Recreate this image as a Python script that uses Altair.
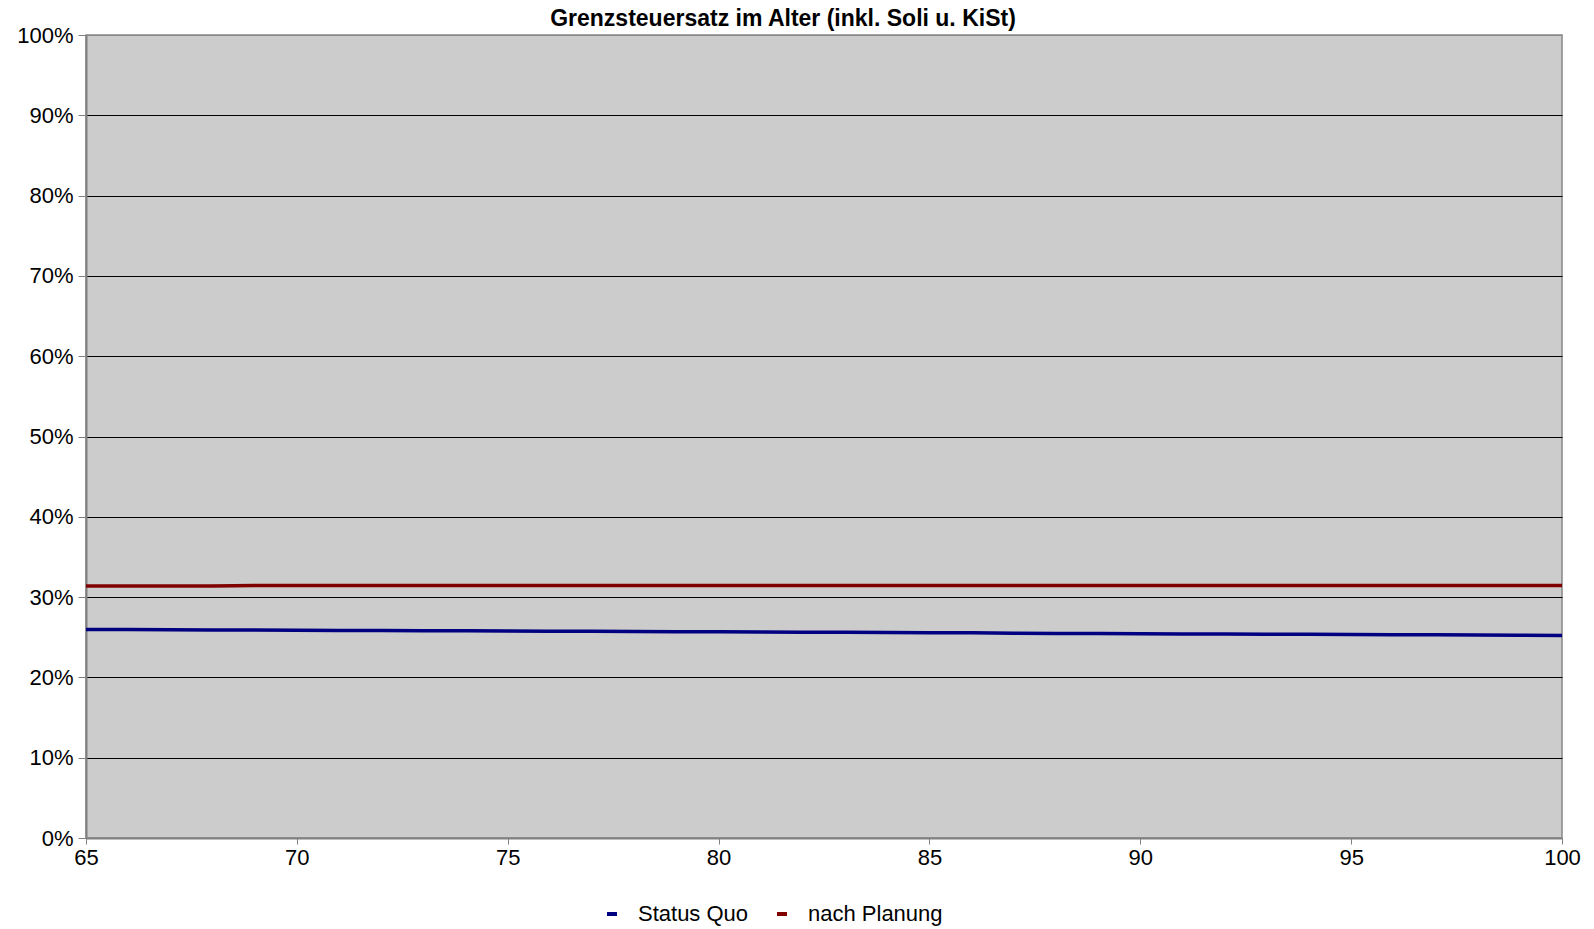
import altair as alt
import pandas as pd

ages = list(range(65, 101))
status_quo = [25.95, 25.95, 25.92, 25.90, 25.90, 25.87, 25.85, 25.85, 25.82, 25.80,
              25.78, 25.76, 25.74, 25.71, 25.70, 25.68, 25.65, 25.63, 25.62, 25.59,
              25.57, 25.55, 25.51, 25.48, 25.47, 25.44, 25.42, 25.41, 25.38, 25.36,
              25.35, 25.32, 25.30, 25.29, 25.25, 25.23]
nach_planung = [31.38, 31.38, 31.38, 31.38] + [31.46] * 32
series_names = ["Status Quo", "nach Planung"]
series_colors = ["#000080", "#800000"]
x_ticks = [65, 70, 75, 80, 85, 90, 95, 100]
y_ticks = [i / 10 for i in range(11)]

rows = []
for a, s, n in zip(ages, status_quo, nach_planung):
    rows.append({"Alter": a, "Wert": s / 100, "Serie": series_names[0]})
    rows.append({"Alter": a, "Wert": n / 100, "Serie": series_names[1]})
df = pd.DataFrame(rows)

FONT = "Liberation Sans"

chart = alt.Chart(df).mark_line(strokeWidth=3.5).encode(
    x=alt.X("Alter:Q", scale=alt.Scale(domain=[65, 100], nice=False, zero=False),
            axis=alt.Axis(values=x_ticks, title=None, grid=False, tickSize=6,
                          labelPadding=3, labelFontSize=22, labelFont=FONT,
                          labelColor="black", tickColor="#808080",
                          domainColor="#808080", domainWidth=2, labelFlush=False)),
    y=alt.Y("Wert:Q", scale=alt.Scale(domain=[0, 1], nice=False),
            axis=alt.Axis(values=y_ticks, format=".0%", title=None, tickSize=8,
                          labelPadding=5, labelFontSize=22, labelFont=FONT,
                          labelColor="black", tickColor="#808080",
                          domainColor="#808080", domainWidth=2,
                          gridColor={"condition": {"test": "datum.value >= 1 || datum.value <= 0",
                                                   "value": "#888888"}, "value": "black"},
                          gridWidth=1, gridOpacity=1)),
    color=alt.Color("Serie:N", scale=alt.Scale(domain=series_names, range=series_colors),
                    sort=series_names,
                    legend=alt.Legend(title=None, orient="none", direction="horizontal",
                                      legendX=515, legendY=868, symbolType="stroke",
                                      symbolSize=100, symbolStrokeWidth=4,
                                      labelFontSize=22, labelFont=FONT, labelColor="black",
                                      labelOffset=15, columnPadding=20, padding=0)),
).properties(
    width=1476, height=803,
    title=alt.TitleParams("Grenzsteuersatz im Alter (inkl. Soli u. KiSt)", fontSize=23,
                          font=FONT, fontWeight="bold", color="black", anchor="middle",
                          dx=-41, offset=-7),
    autosize=alt.AutoSizeParams(type="none"),
    padding={"left": 86, "top": 35, "right": 32, "bottom": 91},
    background="white",
).configure_view(
    fill="#CCCCCC", stroke="#888888", strokeWidth=1.5
)

chart.save("out.html", embed_options={"renderer": "svg", "actions": False})
